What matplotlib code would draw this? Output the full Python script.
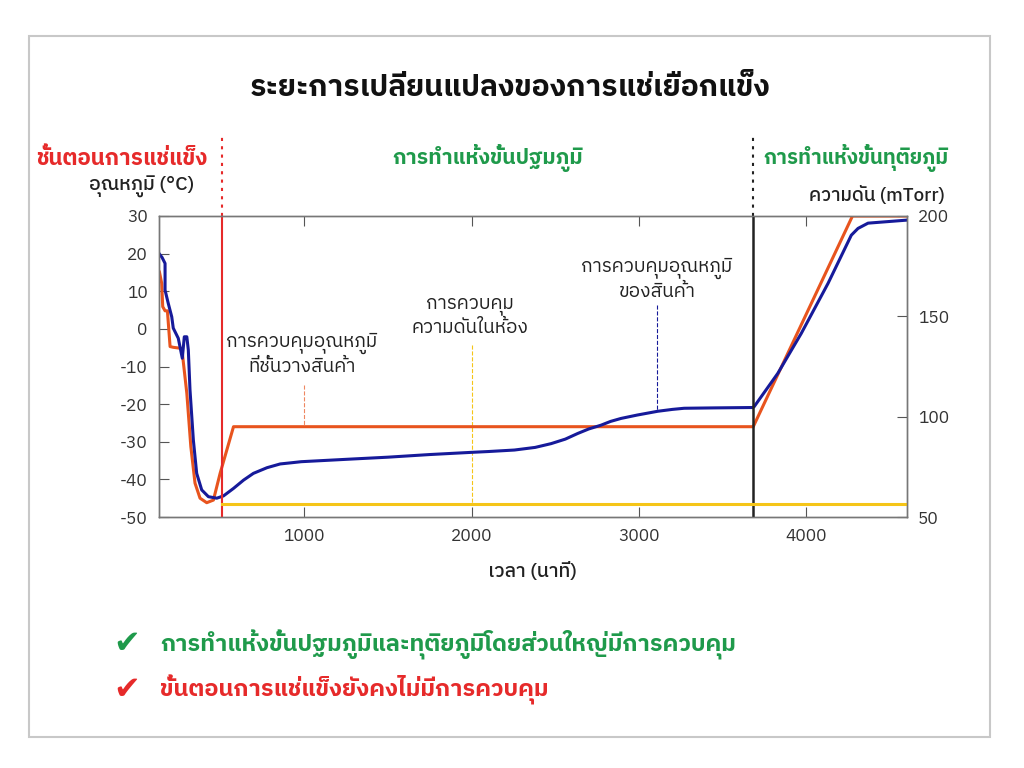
import numpy as np
import matplotlib
matplotlib.use('Agg')
import matplotlib.pyplot as plt
from matplotlib import font_manager
from matplotlib.ft2font import FT2Font
from matplotlib.patches import Rectangle

# pick an installed font that has Thai glyphs (plain, not looped: marks stack better)
def find_thai_font():
    found = []
    for f in font_manager.fontManager.ttflist:
        try:
            cmap = FT2Font(f.fname).get_charmap()
        except Exception:
            continue
        if 0x0E01 in cmap:
            found.append(f.name)
    found.sort(key=lambda n: ('Looped' in n, 'Thai' not in n, n))
    return found[0] if found else 'DejaVu Sans'

thai = find_thai_font()
plt.rcParams['font.family'] = [thai, 'DejaVu Sans']
plt.rcParams['axes.unicode_minus'] = False

# shelf temperature (orange), °C
shelf_t = [130, 134, 148, 154, 168, 182, 198, 217, 268, 298, 322, 347, 377, 417, 457, 497, 577,
           3683, 4276, 4600]
shelf_v = [15.5, 15.2, 12.1, 5.9, 4.8, 4.8, -4.7, -4.9, -5.2, -17.1, -31.3, -41.0, -45.0, -46.2, -45.5, -38.4, -26.0,
           -26.0, 30.0, 30.0]

# product temperature (blue), °C
prod_t = [130, 134, 150, 168, 168, 187, 208, 217, 247, 271, 283, 298, 307, 317, 337, 357, 387, 427, 477, 517,
          577, 637, 696, 777, 856, 920, 982, 1281, 1500, 1750, 2007, 2100, 2256, 2380, 2475, 2560, 2634, 2700,
          2773, 2830, 2893, 2990, 3112, 3200, 3270, 3450, 3679, 3688, 3830, 3970, 4130, 4269, 4309, 4369, 4600]
prod_v = [20.2, 19.9, 19.0, 17.4, 10.3, 6.8, 3.2, 0.2, -2.5, -7.8, -2.1, -2.1, -5.6, -16.2, -29.5, -38.4, -42.8,
          -44.6, -45.0, -44.4, -42.4, -40.2, -38.4, -36.9, -35.9, -35.6, -35.3, -34.6, -34.1, -33.4, -32.8, -32.6,
          -32.2, -31.5, -30.5, -29.3, -27.8, -26.6, -25.6, -24.6, -23.8, -22.9, -21.9, -21.4, -21.1, -21.0, -20.9,
          -20.7, -11.8, -1.2, 12.1, 24.9, 26.7, 28.1, 28.9]

# chamber pressure (yellow), mTorr
press_t = [509, 4600]
press_v = [56.7, 56.7]

phase_bounds = [509, 3683]
phase_names = ['ชั้นตอนการแช่แข็ง', 'การทำแห้งขั้นปฐมภูมิ', 'การทำแห้งขั้นทุติยภูมิ']

red = '#e62a2a'
green = '#1f9a4b'
orange = '#e8541e'
blue = '#161a9a'
yellow = '#f5c518'

fig = plt.figure(figsize=(10.24, 7.68), dpi=100)
fig.patches.append(Rectangle((29/1024, 1 - 737/768), 961/1024, 701/768, transform=fig.transFigure,
                             fill=False, edgecolor='#c8c8c8', linewidth=1.5))

ax = fig.add_axes([158.7/1024, 251/768, 748/1024, 301/768])
ax2 = ax.twinx()

ax.plot(shelf_t, shelf_v, color=orange, lw=2.2, zorder=3, solid_joinstyle='round')
ax.plot(prod_t, prod_v, color=blue, lw=2.2, zorder=4, solid_joinstyle='round')
ax2.plot(press_t, press_v, color=yellow, lw=2.2)

ax.set_xlim(130, 4600)
ax.set_ylim(-50, 30)
ax2.set_ylim(50, 200)
ax.set_xticks([1000, 2000, 3000, 4000])
ax.set_yticks(range(-50, 31, 10))
ax2.set_yticks([50, 100, 150, 200])

# phase boundaries, dotted above the plot frame
ax.axvline(phase_bounds[0], color=red, lw=1.5, zorder=5)
ax.axvline(phase_bounds[1], color='#222222', lw=1.8, zorder=5)
ax.plot([phase_bounds[0]] * 2, [30, 51], color=red, lw=1.5, ls=(0, (1.5, 2.5)), clip_on=False)
ax.plot([phase_bounds[1]] * 2, [30, 51], color='#222222', lw=1.5, ls=(0, (1.5, 2.5)), clip_on=False)

# annotation guide lines
ax.plot([1000, 1000], [-15, -26], color=orange, lw=0.8, ls='--', alpha=0.7)
ax.plot([2000, 2000], [-4.3, -46.4], color=yellow, lw=0.8, ls='--')
ax.plot([3110, 3110], [6.3, -21.8], color=blue, lw=0.8, ls='--')

for a in (ax, ax2):
    for s in a.spines.values():
        s.set_color('#777777')
        s.set_linewidth(1.0)
ax.tick_params(axis='both', direction='in', length=7, color='#555555', labelsize=12.5,
               labelcolor='#333333', top=True, pad=8)
ax2.tick_params(axis='y', direction='in', length=7, color='#555555', labelsize=12.5,
                labelcolor='#333333', pad=8)

def ftext(x, y, s, **kw):
    fig.text(x/1024, 1 - y/768, s, ha=kw.pop('ha', 'center'), va=kw.pop('va', 'center'), **kw)

ftext(510, 88, 'ระยะการเปลี่ยนแปลงของการแช่เยือกแข็ง', fontsize=21.6, fontweight='bold', color='#111111')
ftext(122, 158, phase_names[0], fontsize=16, fontweight='bold', color=red)
ftext(488, 158, phase_names[1], fontsize=15.2, fontweight='bold', color=green)
ftext(856, 158, phase_names[2], fontsize=14.8, fontweight='bold', color=green)
ftext(142, 187, 'อุณหภูมิ (°C)', fontsize=14, color='#222222', fontweight='medium')
ftext(877, 195, 'ความดัน (mTorr)', fontsize=13.5, color='#222222', fontweight='medium')
ftext(532, 572, 'เวลา (นาที)', fontsize=14, color='#222222', fontweight='medium')

ftext(302, 354, 'การควบคุมอุณหภูมิ\nที่ชั้นวางสินค้า', fontsize=13.7, color='#222222', linespacing=1.3)
ftext(470, 317, 'การควบคุม\nความดันในห้อง', fontsize=13.7, color='#222222', linespacing=1.3)
ftext(657, 279, 'การควบคุมอุณหภูมิ\nของสินค้า', fontsize=13.7, color='#222222', linespacing=1.3)

ftext(127, 645, '✔', fontsize=23, color=green, family='DejaVu Sans')
ftext(127, 690, '✔', fontsize=23, color=red, family='DejaVu Sans')
ftext(160, 645, 'การทำแห้งขั้นปฐมภูมิและทุติยภูมิโดยส่วนใหญ่มีการควบคุม', fontsize=16.9, color=green,
      fontweight='bold', ha='left')
ftext(160, 690, 'ขั้นตอนการแช่แข็งยังคงไม่มีการควบคุม', fontsize=16.9, color=red, fontweight='bold', ha='left')

fig.savefig('out.png', dpi=100, facecolor='white')
